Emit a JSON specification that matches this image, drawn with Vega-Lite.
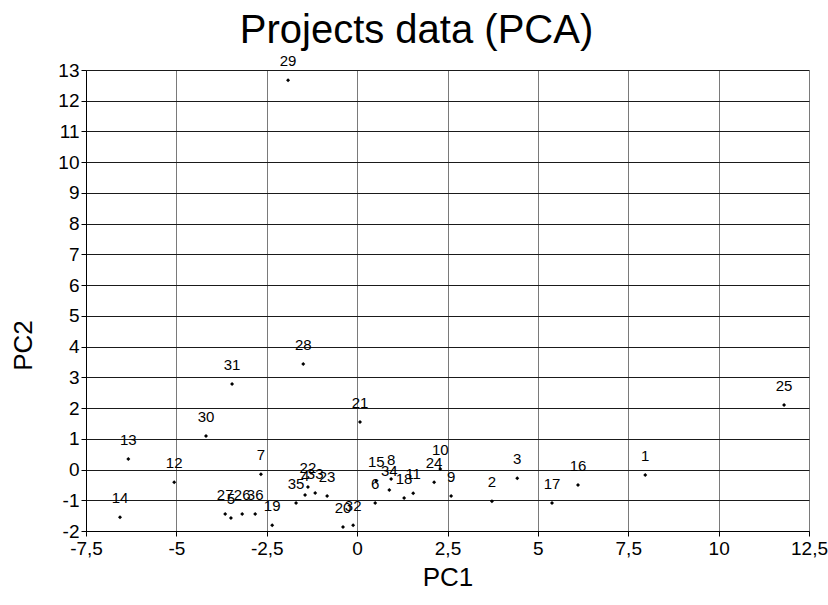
{
  "$schema": "https://vega.github.io/schema/vega-lite/v6.json",
  "width": 723,
  "height": 461,
  "autosize": {"type": "none"},
  "padding": {"left": 86, "top": 70, "right": 19, "bottom": 74},
  "background": "white",
  "title": {"text": "Projects data (PCA)", "font": "Liberation Sans", "fontSize": 40, "fontWeight": "normal", "color": "#000", "anchor": "middle", "dx": -31, "offset": 3},
  "config": {"view": {"stroke": null}},
  "data": {"values": [
    {"id": "1", "PC1": 7.97, "PC2": -0.18},
    {"id": "2", "PC1": 3.73, "PC2": -1.03},
    {"id": "3", "PC1": 4.43, "PC2": -0.28},
    {"id": "4", "PC1": -1.44, "PC2": -0.83},
    {"id": "5", "PC1": -3.49, "PC2": -1.58},
    {"id": "6", "PC1": 0.5, "PC2": -1.09},
    {"id": "7", "PC1": -2.66, "PC2": -0.15},
    {"id": "8", "PC1": 0.94, "PC2": -0.31},
    {"id": "9", "PC1": 2.6, "PC2": -0.86},
    {"id": "10", "PC1": 2.3, "PC2": 0.02},
    {"id": "11", "PC1": 1.55, "PC2": -0.77},
    {"id": "12", "PC1": -5.06, "PC2": -0.41},
    {"id": "13", "PC1": -6.33, "PC2": 0.34},
    {"id": "14", "PC1": -6.56, "PC2": -1.55},
    {"id": "15", "PC1": 0.53, "PC2": -0.37},
    {"id": "16", "PC1": 6.11, "PC2": -0.5},
    {"id": "17", "PC1": 5.39, "PC2": -1.09},
    {"id": "18", "PC1": 1.3, "PC2": -0.93},
    {"id": "19", "PC1": -2.35, "PC2": -1.81},
    {"id": "20", "PC1": -0.39, "PC2": -1.87},
    {"id": "21", "PC1": 0.08, "PC2": 1.55},
    {"id": "22", "PC1": -1.36, "PC2": -0.57},
    {"id": "23", "PC1": -0.83, "PC2": -0.86},
    {"id": "24", "PC1": 2.13, "PC2": -0.41},
    {"id": "25", "PC1": 11.81, "PC2": 2.1},
    {"id": "26", "PC1": -3.18, "PC2": -1.45},
    {"id": "27", "PC1": -3.65, "PC2": -1.45},
    {"id": "28", "PC1": -1.49, "PC2": 3.43},
    {"id": "29", "PC1": -1.91, "PC2": 12.67},
    {"id": "30", "PC1": -4.18, "PC2": 1.09},
    {"id": "31", "PC1": -3.46, "PC2": 2.78},
    {"id": "32", "PC1": -0.11, "PC2": -1.81},
    {"id": "33", "PC1": -1.16, "PC2": -0.76},
    {"id": "34", "PC1": 0.89, "PC2": -0.67},
    {"id": "35", "PC1": -1.69, "PC2": -1.09},
    {"id": "36", "PC1": -2.82, "PC2": -1.45}
  ]},
  "encoding": {
    "x": {"field": "PC1", "type": "quantitative",
      "scale": {"domain": [-7.5, 12.5], "nice": false, "zero": false},
      "axis": {"values": [-7.5, -5, -2.5, 0, 2.5, 5, 7.5, 10, 12.5],
        "labelExpr": "(datum.value < 0 ? '-' : '') + replace(format(abs(datum.value), '~g'), '.', ',')",
        "title": "PC1", "titleFont": "Liberation Sans", "titleFontSize": 26, "titleFontWeight": "normal", "titleColor": "#000", "titlePadding": 6,
        "labelFont": "Liberation Sans", "labelFontSize": 19, "labelColor": "#000", "labelPadding": 3, "labelFlush": false, "labelOverlap": false,
        "domainColor": "#000", "tickColor": "#000", "tickSize": 5,
        "grid": true, "gridColor": "#7a7a7a", "gridOpacity": 1, "gridWidth": 1}},
    "y": {"field": "PC2", "type": "quantitative",
      "scale": {"domain": [-2, 13], "nice": false, "zero": false},
      "axis": {"values": [-2, -1, 0, 1, 2, 3, 4, 5, 6, 7, 8, 9, 10, 11, 12, 13],
        "labelExpr": "(datum.value < 0 ? '-' : '') + format(abs(datum.value), 'd')",
        "title": "PC2", "titleFont": "Liberation Sans", "titleFontSize": 26, "titleFontWeight": "normal", "titleColor": "#000", "titleY": 275, "titleX": -50,
        "labelFont": "Liberation Sans", "labelFontSize": 19, "labelColor": "#000", "labelPadding": 2, "labelFlush": false, "labelOverlap": false,
        "domainColor": "#000", "tickColor": "#000", "tickSize": 5,
        "grid": true, "gridColor": "#1a1a1a", "gridOpacity": 1, "gridWidth": 1}}
  },
  "layer": [
    {"mark": {"type": "point", "shape": "diamond", "filled": true, "color": "#000", "size": 16, "opacity": 1}},
    {"mark": {"type": "text", "font": "Liberation Sans", "fontSize": 15, "color": "#000", "dy": -19, "baseline": "middle"},
     "encoding": {"text": {"field": "id"}}}
  ]
}
